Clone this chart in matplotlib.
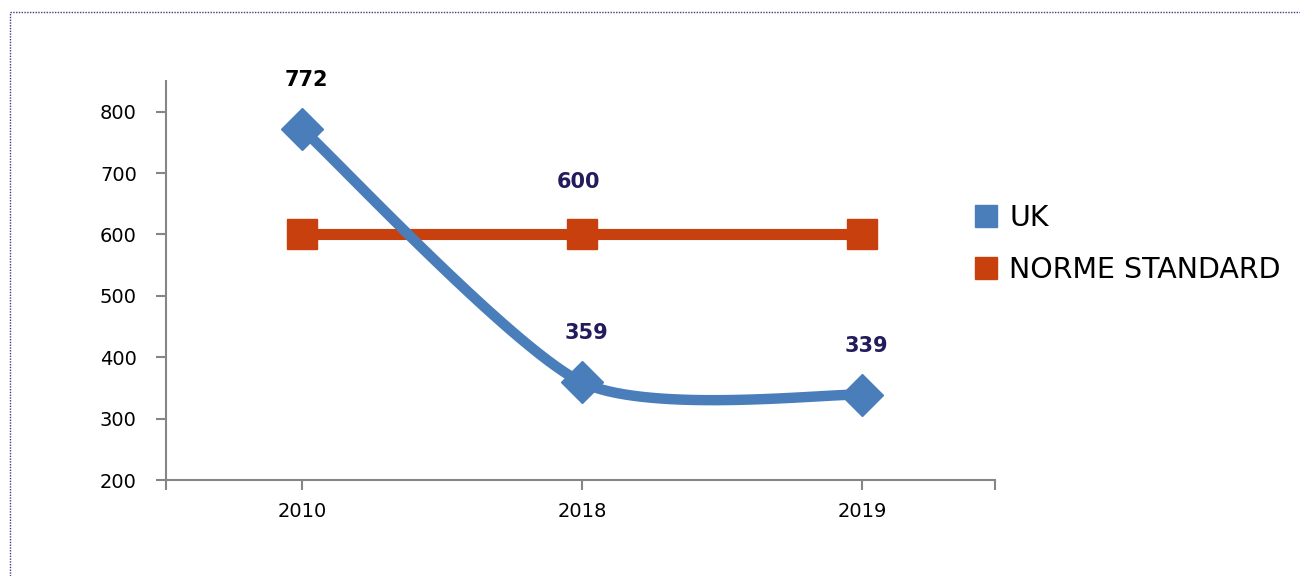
import matplotlib
matplotlib.use('Agg')
import matplotlib.pyplot as plt
from matplotlib.lines import Line2D
import numpy as np


################################## DATA ##################################
years = ['2010', '2018', '2019']
uk_values = [772, 359, 339]
norme_values = [600, 600, 600]
series_names = ['UK', 'NORME STANDARD']
y_ticks = [200, 300, 400, 500, 600, 700, 800]


################################# STYLE ##################################
blue = '#4A7EBB'
orange = '#C8400E'
navy = '#221C5C'
axis_grey = '#868686'
plt.rcParams['font.family'] = ['DejaVu Sans']


# Excel-like smoothed line: cubic Bezier through the points
def smooth_curve(xs, ys, k=0.12, n=60):
    pts = np.column_stack([xs, ys]).astype(float)
    padded = np.vstack([pts[0], pts, pts[-1]])
    out = []
    for i in range(len(pts) - 1):
        p0, p1, p2, p3 = padded[i], padded[i + 1], padded[i + 2], padded[i + 3]
        c1 = p1 + (p2 - p0) * k
        c2 = p2 - (p3 - p1) * k
        t = np.linspace(0, 1, n)[:, None]
        seg = ((1 - t) ** 3) * p1 + 3 * ((1 - t) ** 2) * t * c1 + 3 * (1 - t) * t ** 2 * c2 + t ** 3 * p2
        out.append(seg if i == 0 else seg[1:])
    out = np.vstack(out)
    return out[:, 0], out[:, 1]


fig = plt.figure(figsize=(13, 5.76), dpi=100)
ax = fig.add_axes([166 / 1300, 1 - 480 / 576, (995 - 166) / 1300, (480 - 81) / 576])

x = np.arange(len(years))

# NORME STANDARD
ax.plot(x, norme_values, color=orange, lw=8, solid_capstyle='butt', zorder=2)
ax.plot(x, norme_values, linestyle='none', marker='s', ms=21, color=orange, zorder=3)

# UK (smoothed)
sx, sy = smooth_curve(x, uk_values)
ax.plot(sx, sy, color=blue, lw=7.5, solid_capstyle='butt', zorder=4)
ax.plot(x, uk_values, linestyle='none', marker='D', ms=21, color=blue, zorder=5)

# data labels
for i, v in enumerate(uk_values):
    ax.annotate(str(v), (x[i], v), xytext=(4, 49), textcoords='offset pixels',
                ha='center', va='center', fontsize=15, fontweight='bold',
                color='black' if i == 0 else navy, zorder=6)
ax.annotate(str(norme_values[1]), (x[1], norme_values[1]), xytext=(-4, 52),
            textcoords='offset pixels', ha='center', va='center', fontsize=15,
            fontweight='bold', color=navy, zorder=6)

# axes
ax.set_xlim(-0.486, 2.475)
ax.set_ylim(200, 850)
ax.set_yticks(y_ticks)
ax.set_yticklabels([str(t) for t in y_ticks])
ax.set_xticks([-0.486, 0, 1, 2, 2.475])
ax.set_xticklabels([''] + years + [''])
for side in ['top', 'right']:
    ax.spines[side].set_visible(False)
for side in ['left', 'bottom']:
    ax.spines[side].set_color(axis_grey)
    ax.spines[side].set_linewidth(1.5)
ax.tick_params(axis='both', colors=axis_grey, width=1.5, length=7, labelcolor='black', labelsize=14)
ax.tick_params(axis='y', pad=14)
ax.tick_params(axis='x', pad=9)
ax.patch.set_alpha(0)

# legend
handles = [Line2D([], [], marker='s', linestyle='none', color=blue, ms=16),
           Line2D([], [], marker='s', linestyle='none', color=orange, ms=16)]
fig.legend(handles, series_names, loc='upper left', bbox_to_anchor=(965 / 1300, 1 - 193 / 576),
           frameon=False, fontsize=20.5, handlelength=0.7, handletextpad=0.45,
           labelspacing=0.82, borderaxespad=0)

# dotted outer frame
fig.add_artist(Line2D([10 / 1300, 1], [1 - 12 / 576, 1 - 12 / 576], transform=fig.transFigure,
                      color='#3B3B8C', lw=1, linestyle=(0, (1, 1))))
fig.add_artist(Line2D([10 / 1300, 10 / 1300], [0, 1 - 12 / 576], transform=fig.transFigure,
                      color='#3B3B8C', lw=1, linestyle=(0, (1, 1))))

fig.savefig('out.png', dpi=100)
